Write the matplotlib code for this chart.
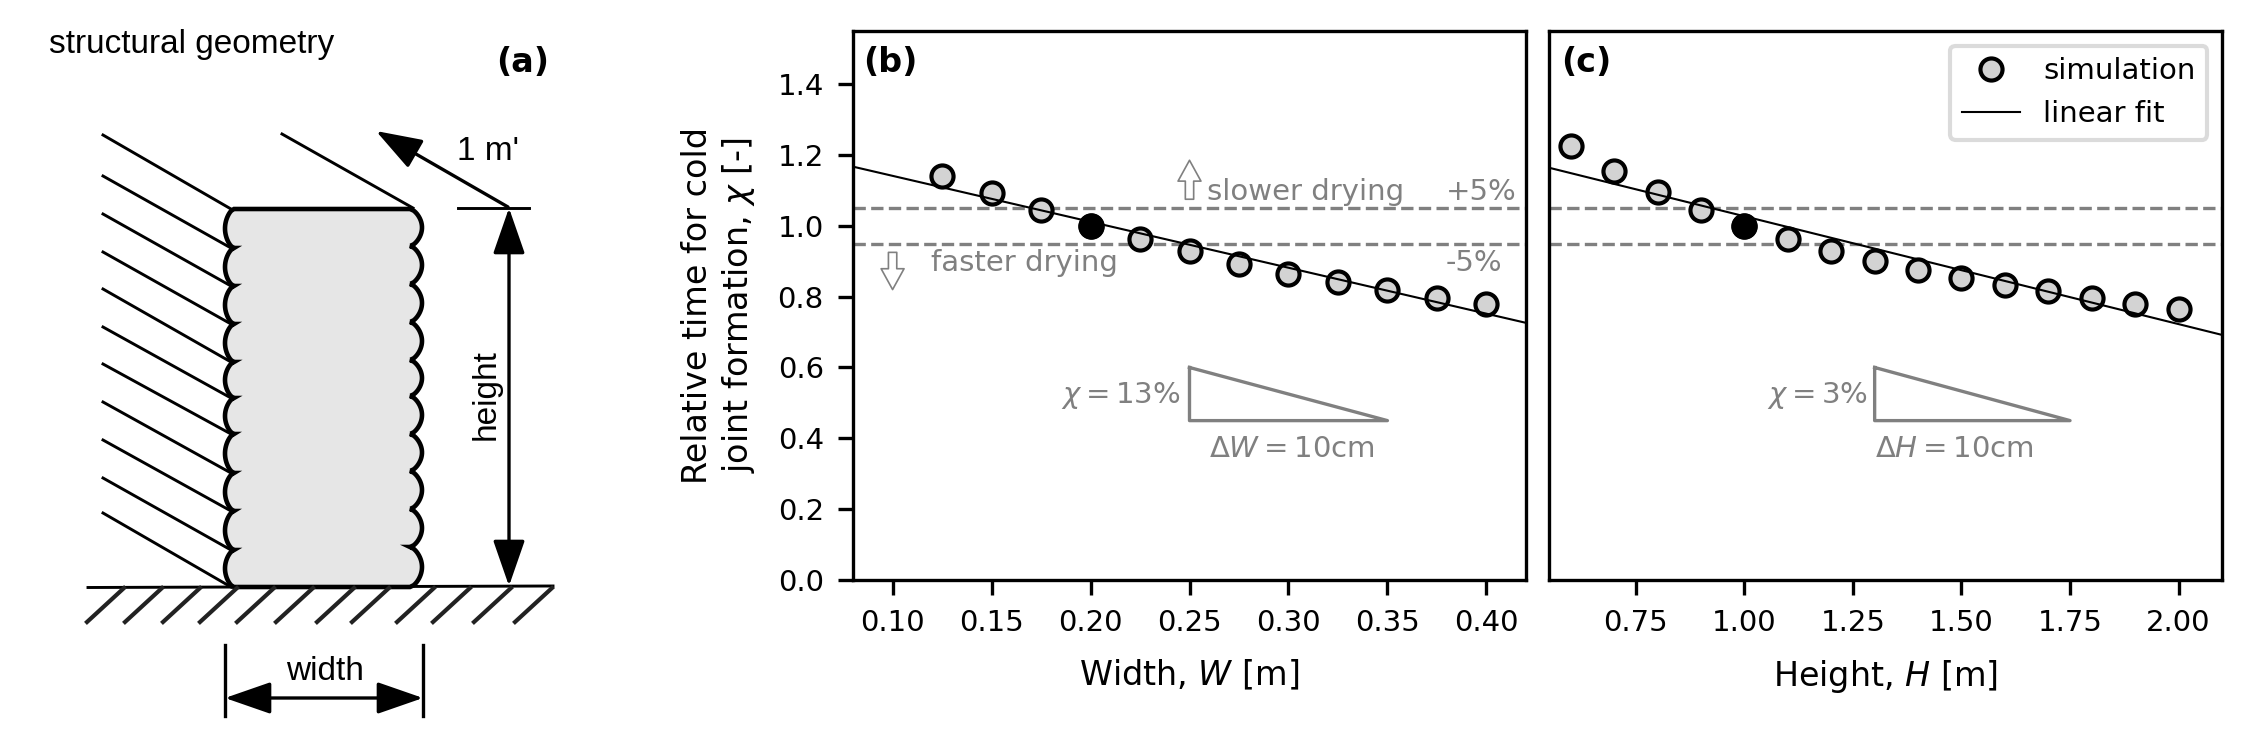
# Sensitivity of cold joint formation to wall width and height

import numpy as np
import matplotlib
matplotlib.use('Agg')
import matplotlib.pyplot as plt

W_px, H_px = 2244, 744

# panel b data
width = [0.125, 0.15, 0.175, 0.2, 0.225, 0.25, 0.275, 0.3, 0.325, 0.35, 0.375, 0.4]
chi_width = [1.142, 1.093, 1.045, 1.0, 0.962, 0.928, 0.893, 0.865, 0.840, 0.818, 0.797, 0.778]
fit_width_x = [0.08, 0.42]
fit_width_y = [1.167, 0.726]

# panel c data
height = [0.6, 0.7, 0.8, 0.9, 1.0, 1.1, 1.2, 1.3, 1.4, 1.5, 1.6, 1.7, 1.8, 1.9, 2.0]
chi_height = [1.225, 1.156, 1.096, 1.045, 1.0, 0.963, 0.93, 0.901, 0.876, 0.854, 0.834, 0.815, 0.797, 0.78, 0.766]
fit_height_x = [0.55, 2.1]
fit_height_y = [1.164, 0.692]

width_ticks = [0.10, 0.15, 0.20, 0.25, 0.30, 0.35, 0.40]
height_ticks = [0.75, 1.00, 1.25, 1.50, 1.75, 2.00]
chi_ticks = [0.0, 0.2, 0.4, 0.6, 0.8, 1.0, 1.2, 1.4]

GREY = 'gray'
FILL = 'lightgray'


def px_axes(fig, x0, x1, y_top, y_bottom):
    return fig.add_axes([x0 / W_px, 1 - y_bottom / H_px, (x1 - x0) / W_px, (y_bottom - y_top) / H_px])


def draw_panel(ax, x, y, fit_x, fit_y, ref_x):
    ax.axhline(1.05, color=GREY, ls='--', lw=0.8, zorder=1)
    ax.axhline(0.95, color=GREY, ls='--', lw=0.8, zorder=1)
    ax.plot(fit_x, fit_y, color='k', lw=0.5, zorder=3, label='linear fit')
    ax.plot(x, y, 'o', ms=5.3, mfc=FILL, mec='k', mew=1, zorder=2, label='simulation')
    ax.plot([ref_x], [1.0], 'o', ms=5.3, mfc='k', mec='k', mew=1, zorder=4)
    ax.set_ylim(0, 1.55)
    ax.set_yticks(chi_ticks)
    ax.tick_params(labelsize=7, width=0.8, length=3.5)


plt.rcParams['font.size'] = 8
fig = plt.figure(figsize=(W_px / 300, H_px / 300), dpi=300)

# (b) width
ax_b = px_axes(fig, 853, 1526, 31, 580)
draw_panel(ax_b, width, chi_width, fit_width_x, fit_width_y, 0.2)
ax_b.set_xlim(0.08, 0.42)
ax_b.set_xticks(width_ticks)
ax_b.set_xticklabels(['%.2f' % t for t in width_ticks])
ax_b.set_xlabel('Width, $W$ [m]', fontsize=8, labelpad=5)
ax_b.set_ylabel('Relative time for cold\njoint formation, $\\chi$ [-]', fontsize=8, labelpad=5)
ax_b.plot([0.25, 0.25, 0.35, 0.25], [0.6, 0.45, 0.45, 0.6], color=GREY, lw=0.8)
ax_b.text(0.0853, 1.46, '(b)', fontweight='bold', fontsize=8, ha='left', va='center')
ax_b.text(0.259, 1.095, 'slower drying', color=GREY, fontsize=7, va='center')
ax_b.text(0.1194, 0.895, 'faster drying', color=GREY, fontsize=7, va='center')
ax_b.text(0.4152, 1.095, '+5%', color=GREY, fontsize=7, va='center', ha='right')
ax_b.text(0.4082, 0.895, '-5%', color=GREY, fontsize=7, va='center', ha='right')
ax_b.text(0.185, 0.52, '$\\chi = 13\\%$', color=GREY, fontsize=7, va='center')
ax_b.text(0.26, 0.37, '$\\Delta W = 10$cm', color=GREY, fontsize=7, va='center')
arrow_style = dict(fc='white', ec=GREY, lw=0.4, width=2.0, headwidth=5.5, headlength=5)
ax_b.annotate('', xy=(0.25, 1.185), xytext=(0.25, 1.075), arrowprops=arrow_style)
ax_b.annotate('', xy=(0.10, 0.82), xytext=(0.10, 0.925), arrowprops=arrow_style)

# (c) height
ax_c = px_axes(fig, 1549, 2222, 31, 580)
draw_panel(ax_c, height, chi_height, fit_height_x, fit_height_y, 1.0)
ax_c.set_xlim(0.55, 2.1)
ax_c.set_xticks(height_ticks)
ax_c.set_xticklabels(['%.2f' % t for t in height_ticks])
ax_c.set_xlabel('Height, $H$ [m]', fontsize=8, labelpad=5)
ax_c.tick_params(left=False, labelleft=False)
ax_c.plot([1.3, 1.3, 1.75, 1.3], [0.6, 0.45, 0.45, 0.6], color=GREY, lw=0.8)
ax_c.text(0.579, 1.46, '(c)', fontweight='bold', fontsize=8, ha='left', va='center')
ax_c.text(1.053, 0.52, '$\\chi = 3\\%$', color=GREY, fontsize=7, va='center')
ax_c.text(1.30, 0.37, '$\\Delta H = 10$cm', color=GREY, fontsize=7, va='center')
handles, labels = ax_c.get_legend_handles_labels()
leg = ax_c.legend(handles[::-1], labels[::-1], loc='upper right', fontsize=7, framealpha=0.8,
                  edgecolor=FILL, fancybox=True)
leg.get_frame().set_linewidth(1.0)

# (a) schematic, drawn in picture pixels
ax_a = fig.add_axes([0, 0, 1, 1], zorder=5)
ax_a.set_xlim(0, W_px)
ax_a.set_ylim(H_px, 0)
ax_a.axis('off')
ax_a.patch.set_alpha(0)

# scallop nodes along both faces of the wall
left_nodes = [209, 248, 286, 324, 362, 398, 434, 473, 511, 550, 587]
right_nodes = [209, 246, 284, 322, 360, 396, 434, 471, 509, 547, 587]


def scallops(nodes, base, bulge):
    xs, ys = [], []
    for y0, y1 in zip(nodes[:-1], nodes[1:]):
        t = np.linspace(0, 1, 24)
        xs.extend(base + bulge * np.sin(np.pi * t) ** 0.6)
        ys.extend(y0 + (y1 - y0) * t)
    return xs, ys


lx, ly = scallops(left_nodes, 234, -9)
rx, ry = scallops(right_nodes, 410, 12)
wall_x = lx + rx[::-1]
wall_y = ly + ry[::-1]
ax_a.fill(wall_x, wall_y, facecolor='#e6e6e6', edgecolor='k', lw=1.1, zorder=2)

hatch_start_y = [135, 176, 214, 252, 289, 327, 364, 402, 440, 478, 513]
hatch_end_y = [209] + left_nodes[1:-1] + [587]
for y0, y1 in zip(hatch_start_y, hatch_end_y):
    ax_a.plot([103, 231], [y0, y1], color='k', lw=0.7, zorder=1)
ax_a.plot([282, 413], [134, 208], color='k', lw=0.7, zorder=1)

# ground
ax_a.plot([88, 553], [587.5, 586], color='k', lw=0.7)
for x0 in [87, 125, 163, 200, 237, 276, 317, 352, 397, 433, 474, 515]:
    ax_a.plot([x0, x0 + 37], [622, 588], color='#222222', lw=1.0)

# dimensions
dim_arrow = dict(arrowstyle='-|>,head_length=0.95,head_width=0.33', color='k', lw=0.8,
                 shrinkA=0, shrinkB=0, mutation_scale=10)
both_arrow = dict(dim_arrow, arrowstyle='<|-|>,head_length=0.95,head_width=0.33')
ax_a.annotate('', xy=(376, 131), xytext=(508, 207), arrowprops=dim_arrow)
ax_a.plot([458, 529], [207.5, 207.5], color='k', lw=0.7)
ax_a.annotate('', xy=(509, 208), xytext=(509, 586), arrowprops=both_arrow)
ax_a.annotate('', xy=(225, 698), xytext=(423, 698), arrowprops=both_arrow)
ax_a.plot([225, 225], [645, 716], color='k', lw=0.8)
ax_a.plot([423, 423], [645, 716], color='k', lw=0.8)

schema_font = ['Liberation Sans', 'DejaVu Sans']
ax_a.text(49, 44, 'structural geometry', family=schema_font, fontsize=8, va='center')
ax_a.text(488, 151, "1 m'", family=schema_font, fontsize=8, va='center', ha='center')
ax_a.text(486, 395, 'height', family=schema_font, fontsize=8, va='center', ha='center', rotation=90)
ax_a.text(325, 671, 'width', family=schema_font, fontsize=8, va='center', ha='center')
ax_a.text(523, 62, '(a)', fontweight='bold', fontsize=8, va='center', ha='center')

fig.savefig('out.png', dpi=300)
